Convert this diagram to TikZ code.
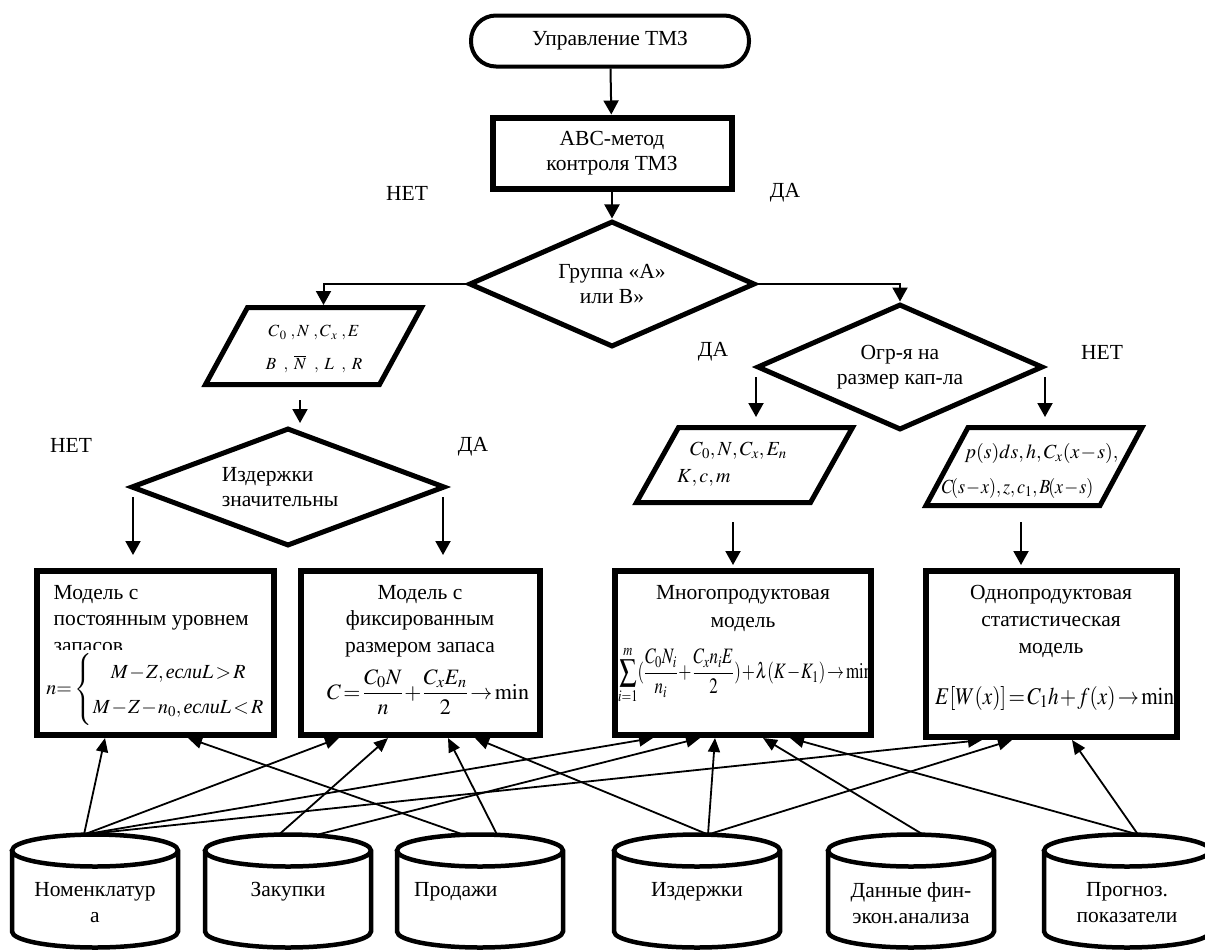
\documentclass[tikz,border=0pt]{standalone}
\usepackage{amsmath}
\usepackage{graphicx}
\usepackage{mathptmx}
\usepackage{fontspec}
\setmainfont{Liberation Serif}
\usetikzlibrary{shapes.geometric, arrows.meta, positioning}
\newcommand{\tightmu}{\medmuskip=1mu\relax\thickmuskip=2mu\relax\arraycolsep=1pt\relax}

\begin{document}
\begin{tikzpicture}[
    x=1pt, y=-1pt,
    every node/.style={inner sep=0pt, font=\fontsize{21.5}{25.5}\selectfont},
    startstop/.style={rectangle, rounded corners=25pt, draw, line width=4pt, minimum width=278pt, minimum height=51pt},
    process/.style={rectangle, draw, line width=6pt, minimum width=239pt, minimum height=71pt, align=center},
    decision/.style={diamond, draw, line width=5pt, aspect=2.2, minimum width=286pt, minimum height=126pt, align=center},
    iobox/.style={rectangle, minimum width=216pt, minimum height=77pt, outer sep=0pt},
    ioline/.style={line width=5pt, line join=miter},
    model/.style={rectangle, draw, line width=6pt, minimum width=237pt, minimum height=164pt},
    mtext/.style={font=\fontsize{21.5}{26.5}\selectfont},
    dbbox/.style={rectangle, minimum width=166pt, minimum height=113pt, outer sep=0pt},
    dbline/.style={line width=4.5pt},
    arrow/.style={line width=2pt, -{Triangle[width=15pt,length=14pt]}},
    link/.style={line width=1.8pt, -{Triangle[width=12pt,length=14pt]}},
    frm/.style={font={\fontsize{20}{35}\selectfont\tightmu}}
]
\useasboundingbox (0,0) rectangle (1205,951);

% Nodes
\node [startstop] (upr) at (610,41) {Управление ТМЗ};
\node [process] (abc) at (612,153) {АВС-метод\\контроля ТМЗ};
\node [decision] (grp) at (612,284) {Группа «А»\\или В»};
\node [decision] (ogr) at (900,367) {Огр-я на\\размер кап-ла};
\node [decision, aspect=2.6, minimum width=314pt, minimum height=118pt, align=left] (izd) at (288,487) {Издержки\\значительны\hspace*{16pt}};

% input parallelograms
\node [iobox] (in1) at (313.5,346) {};
\node [iobox, minimum height=75pt] (in2) at (744.5,465) {};
\node [iobox, minimum height=78pt] (in3) at (1034,466.5) {};
\foreach \n in {in1,in2,in3}
    \draw [ioline] ([xshift=42pt]\n.north west) -- (\n.north east) -- ([xshift=-42pt]\n.south east) -- (\n.south west) -- cycle;
\node [font=\fontsize{17}{33}\selectfont, align=center] (in1t) at (314,349) {$C_{\,0}\;,N\;,C_{\,x}\;,E$\\$B\;\;,\;\overline{N}\;\;,\;L\;\;,\;R$};
\node [frm, font={\fontsize{20}{27}\selectfont\tightmu}, align=left] (in2t) at (732,464) {\hspace*{13pt}$C_0,N,C_x,E_n$\\$K,c,m$};
\node [frm, font={\fontsize{20}{35}\selectfont\tightmu}, align=left] (in3t) at (1030,471) {\hspace*{23pt}$p(s)ds,h,C_x(x-s),$\\\scalebox{0.9}[1]{$C\!(s-x),z,c_1,B\!(x-s)$}};

% models
\node [model] (m1) at (155,653) {};
\node [model, minimum width=239pt] (m2) at (420,653) {};
\node [model, minimum width=256pt] (m3) at (743,653) {};
\node [model, minimum width=251pt, minimum height=166pt] (m4) at (1051,654) {};
\node [mtext, below right=17pt and 20pt of m1.north west, align=left] (m1t) {Модель с\\постоянным уровнем\\запасов};
\node [mtext, below=17pt of m2.north, align=center] (m2t) {Модель с\\фиксированным\\размером запаса};
\node [mtext, font=\fontsize{21.5}{28.5}\selectfont, below=17pt of m3.north, align=center] (m3t) {Многопродуктовая\\модель};
\node [mtext, font=\fontsize{21.5}{27}\selectfont, below=17pt of m4.north, align=center] (m4t) {Однопродуктовая\\статистическая\\модель};

% formulas
\node [frm, fill=white, inner ysep=3pt] (f1) at (156,689) {$n{=}\left\{\begin{array}{c}M-Z,\textit{если}L>R\\ M-Z-n_0,\textit{если}L<R\end{array}\right.$};
\begin{scope}
\clip ([xshift=6pt,yshift=6pt]m2.south west) rectangle ([xshift=-6pt,yshift=-6pt]m2.north east);
\node [frm, font={\fontsize{22}{35}\selectfont\tightmu}] (f2) at (428,692) {$C=\dfrac{C_0N}{n}+\dfrac{C_xE_n}{2}\to\min$};
\end{scope}
\begin{scope}
\clip ([xshift=6pt,yshift=6pt]m3.south west) rectangle ([xshift=-6pt,yshift=-6pt]m3.north east);
\node [frm, font={\fontsize{22}{35}\selectfont\tightmu}, anchor=west] (f3) at (618,675) {\scalebox{0.77}[1]{$\displaystyle\sum_{i=1}^{m}(\frac{C_0N_i}{n_i}+\frac{C_xn_iE}{2})+\lambda(K-K_1)\to\min$}};
\end{scope}
\begin{scope}
\clip ([xshift=6pt,yshift=6pt]m4.south west) rectangle ([xshift=-6pt,yshift=-6pt]m4.north east);
\node [frm, font={\fontsize{24}{35}\selectfont\tightmu}, anchor=west] (f4) at (935,698) {\scalebox{0.88}[1]{$E[W(x)]=C_1h+f(x)\to\min$}};
\end{scope}

% data bases
\node [dbbox] (nom) at (95,891) {};
\node [dbbox] (zak) at (288,891) {};
\node [dbbox] (prod) at (480,891) {};
\node [dbbox] (izdb) at (697,891) {};
\node [dbbox] (dan) at (911,891) {};
\node [dbbox] (prog) at (1127,891) {};
\foreach \n in {nom,zak,prod,izdb,dan,prog}
    \draw [dbline] ([yshift=-16pt]\n.north west) -- ([yshift=16pt]\n.south west)
        arc[start angle=180, end angle=360, x radius=83pt, y radius=16pt]
        -- ([yshift=-16pt]\n.north east)
        arc[start angle=0, end angle=180, x radius=83pt, y radius=16pt]
        arc[start angle=180, end angle=360, x radius=83pt, y radius=16pt];
\node [below=48pt of nom.north, align=center] (nomt) {Номенклатур\\а};
\node [below=48pt of zak.north] (zakt) {Закупки};
\node [below right=48pt and 17pt of prod.north west] (prodt) {Продажи};
\node [below=48pt of izdb.north] (izdbt) {Издержки};
\node [below=48pt of dan.north, align=center] (dant) {Данные фин-\\экон.анализа};
\node [below=48pt of prog.north, align=center] (progt) {Прогноз.\\показатели};

% labels
\node (net1) at (407,193) {НЕТ};
\node (da1) at (785,193) {ДА};
\node (da2) at (713,352) {ДА};
\node (net2) at (1102,352) {НЕТ};
\node (net3) at (71,445) {НЕТ};
\node (da3) at (473,447) {ДА};

% free arrow ends
\coordinate (in1out) at (300,400);
\coordinate (izdin) at (300,423);
\coordinate (izdno) at (133,497);
\coordinate (m1in) at (133,555);
\coordinate (izdyes) at (443,497);
\coordinate (m2in) at (443,555);
\coordinate (ogryes) at (756,377);
\coordinate (in2in) at (756,417);
\coordinate (ogrno) at (1045,377);
\coordinate (in3in) at (1045,417);
\coordinate (in2out) at (733,522);
\coordinate (m3in) at (733,565);
\coordinate (in3out) at (1021,522);
\coordinate (m4in) at (1021,565);

% Connections
\draw [arrow] (upr) -- (abc);
\draw [arrow] (abc) -- (grp);
\draw [arrow] (grp.west) -| ([xshift=10pt,yshift=2.5pt]in1.north);
\draw [arrow] (grp.east) -| (ogr.north);
\draw [arrow] (in1out) -- (izdin);
\draw [arrow] (izdno) -- (m1in);
\draw [arrow] (izdyes) -- (m2in);
\draw [arrow] (ogryes) -- (in2in);
\draw [arrow] (ogrno) -- (in3in);
\draw [arrow] (in2out) -- (m3in);
\draw [arrow] (in3out) -- (m4in);

\draw [link] ([xshift=-11pt]nom.north) -- ([xshift=-50pt]m1.south);
\draw [link] ([xshift=-11pt]nom.north) -- ([xshift=-81pt]m2.south);
\draw [link] ([xshift=-11pt]nom.north) -- ([xshift=-90pt]m3.south);
\draw [link] ([xshift=-11pt]nom.north) -- ([xshift=-69pt]m4.south);
\draw [link] ([xshift=-9pt]zak.north) -- ([xshift=-32pt]m2.south);
\draw [link] ([xshift=30pt]zak.north) -- ([xshift=-43pt]m3.south);
\draw [link] ([xshift=-17pt]prod.north) -- ([xshift=33pt]m1.south);
\draw [link] ([xshift=17pt]prod.north) -- ([xshift=28pt]m2.south);
\draw [link] ([xshift=11pt]izdb.north) -- ([xshift=55pt]m2.south);
\draw [link] ([xshift=11pt]izdb.north) -- ([xshift=-28pt]m3.south);
\draw [link] ([xshift=11pt]izdb.north) -- ([xshift=-39pt]m4.south);
\draw [link] ([xshift=12pt]dan.north) -- ([xshift=20pt]m3.south);
\draw [link] ([xshift=11pt]prog.north) -- ([xshift=47pt]m3.south);
\draw [link] ([xshift=11pt]prog.north) -- ([xshift=21pt]m4.south);
\end{tikzpicture}
\end{document}
